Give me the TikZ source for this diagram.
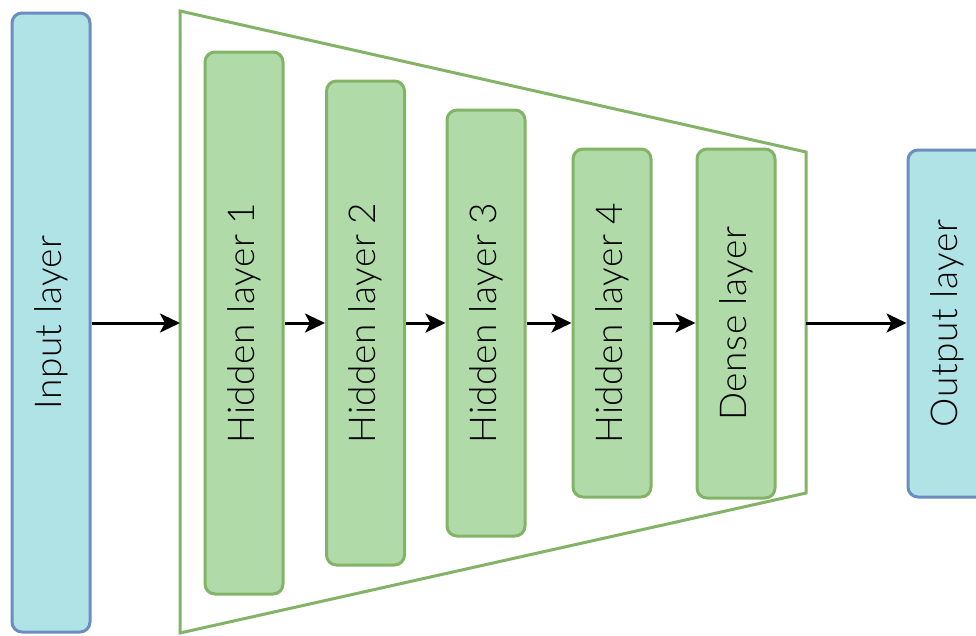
\documentclass[tikz,border=0pt]{standalone}
\usepackage{fontspec}
\setmainfont{Lato}[UprightFont=* Light, LetterSpace=1.5]
\usetikzlibrary{arrows.meta}
\definecolor{cyanfill}{HTML}{B0E3E6}
\definecolor{cyanline}{HTML}{6C8EBF}
\definecolor{greenfill}{HTML}{B0DBA9}
\definecolor{greenline}{HTML}{82B366}
\tikzset{
  layerbox/.style={draw=cyanline, fill=cyanfill, line width=3pt, rounded corners=10pt, inner sep=0pt},
  hiddenbox/.style={draw=greenline, fill=greenfill, line width=3pt, rounded corners=10pt, inner sep=0pt},
  lbl/.style={rotate=90, font=\fontsize{37}{40}\selectfont, text=black},
  flow/.style={line width=3pt, -{Stealth[length=20pt, width=19pt, inset=5pt]}},
}
\begin{document}
\begin{tikzpicture}[x=1pt, y=-1pt]
\useasboundingbox (0,0) rectangle (976,635);
\begin{scope}
\clip (0,0) rectangle (976,635);
% input and output layers
\node[layerbox, minimum width=78pt, minimum height=619pt] (in) at (51,322.5) {};
\node[lbl] at (in.center) {Input layer};
\node[layerbox, minimum width=78pt, minimum height=347pt] (out) at (947,323.5) {};
\node[lbl] at (out.center) {Output layer};
% funnel around the hidden layers
\draw[greenline, line width=3pt, line join=miter] (180,11) -- (806,152) -- (806,493) -- (180,633) -- cycle;
\coordinate (fl) at (180,323);
\coordinate (fr) at (806,323);
% hidden layers
\node[hiddenbox, minimum width=78pt, minimum height=542pt] (h1) at (244,323) {};
\node[hiddenbox, minimum width=78pt, minimum height=484pt] (h2) at (365.5,323) {};
\node[hiddenbox, minimum width=78pt, minimum height=426pt] (h3) at (486,323) {};
\node[hiddenbox, minimum width=78pt, minimum height=348pt] (h4) at (612,323) {};
\node[hiddenbox, minimum width=78pt, minimum height=349pt] (d) at (736,323.5) {};
\node[lbl] at (h1.center) {Hidden layer 1};
\node[lbl] at (h2.center) {Hidden layer 2};
\node[lbl] at (h3.center) {Hidden layer 3};
\node[lbl] at (h4.center) {Hidden layer 4};
\node[lbl] at (d.center) {Dense layer};
% connectors
\draw[flow] (in.east |- 0,323) -- (fl);
\draw[flow] (h1.east |- 0,323) -- (h2.west |- 0,323);
\draw[flow] (h2.east |- 0,323) -- (h3.west |- 0,323);
\draw[flow] (h3.east |- 0,323) -- (h4.west |- 0,323);
\draw[flow] (h4.east |- 0,323) -- (d.west |- 0,323);
\draw[flow] (fr) -- (out.west |- 0,323);
\end{scope}
\end{tikzpicture}
\end{document}
